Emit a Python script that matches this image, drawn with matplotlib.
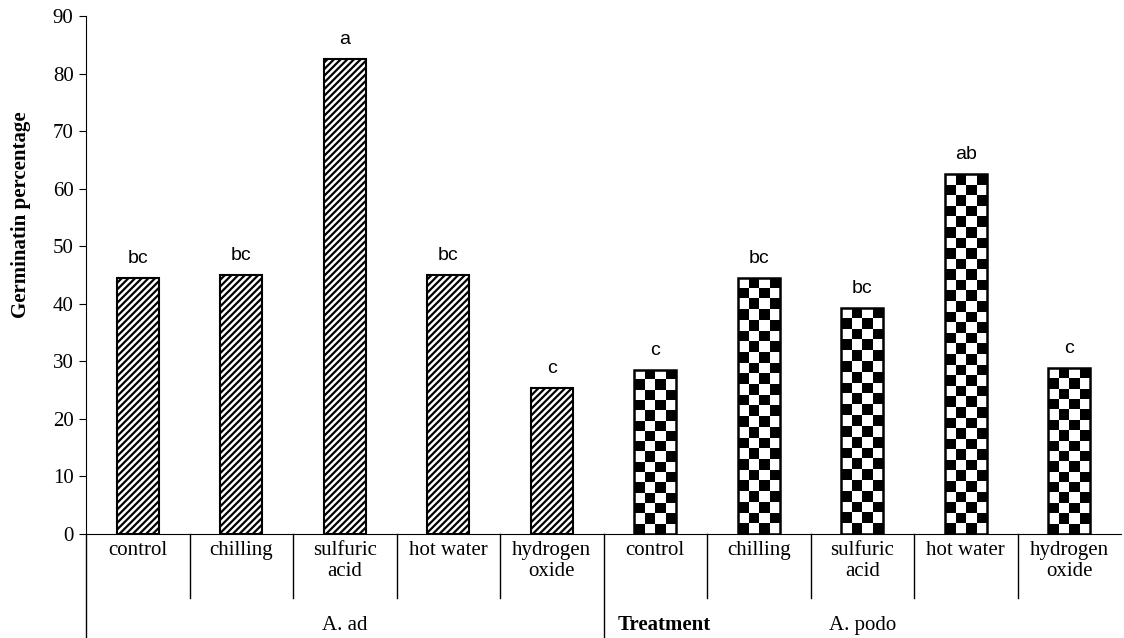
import numpy as np
import matplotlib
matplotlib.use("Agg")
import matplotlib.pyplot as plt
from matplotlib.transforms import blended_transform_factory

plt.rcParams['font.family'] = ['Liberation Serif', 'DejaVu Serif']
plt.rcParams['hatch.linewidth'] = 1.6

# data
treatments = ['control', 'chilling', 'sulfuric\nacid', 'hot water', 'hydrogen\noxide']
species = ['A. ad', 'A. podo']
ad_values = [44.5, 45.0, 82.5, 45.0, 25.3]
podo_values = [28.5, 44.5, 39.3, 62.5, 28.8]
ad_letters = ['bc', 'bc', 'a', 'bc', 'c']
podo_letters = ['c', 'bc', 'bc', 'ab', 'c']

labels = treatments + treatments
values = ad_values + podo_values
letters = ad_letters + podo_letters
n = len(values)
x = np.arange(n)

fig = plt.figure(figsize=(11.24, 6.38), dpi=100)
ax = fig.add_axes([86 / 1124, 104 / 638, 1035 / 1124, 518 / 638])

w = 0.41
# A. ad: diagonal stripes
ax.bar(x[:5], values[:5], width=w, color='white', edgecolor='black',
       hatch='/////', linewidth=1.5, zorder=2)

# A. podo: checkerboard, drawn as an image clipped to each bar
bars = ax.bar(x[5:], values[5:], width=w, color='white', edgecolor='none', zorder=2)
for b in bars:
    h = b.get_height()
    rows = max(1, int(round(h / (90 / 49))))
    board = (np.indices((rows, 4)).sum(axis=0) % 2).astype(float)
    im = ax.imshow(board, cmap='gray_r', vmin=0, vmax=1, interpolation='nearest',
                   extent=(b.get_x(), b.get_x() + b.get_width(), 0, h),
                   aspect='auto', zorder=2.5)
    im.set_clip_path(b)
ax.bar(x[5:], values[5:], width=w, fill=False, edgecolor='black',
       linewidth=1.8, zorder=3)

# significance letters
for xi, v, t in zip(x, values, letters):
    ax.annotate(t, (xi, v), xytext=(0, 8), textcoords='offset points',
                ha='center', va='bottom', fontsize=14, family='Liberation Sans')

ax.set_xlim(-0.5, n - 0.5)
ax.set_ylim(0, 90)
ax.set_yticks(range(0, 91, 10))
ax.tick_params(axis='y', direction='out', length=5, labelsize=15, pad=4)
ax.tick_params(axis='x', bottom=False, labelbottom=False)
ax.spines['top'].set_visible(False)
ax.spines['right'].set_visible(False)

# category table under the axis
tr = blended_transform_factory(ax.transData, ax.transAxes)
for xi, lab in zip(x, labels):
    ax.text(xi, -0.014, lab, transform=tr, ha='center', va='top',
            fontsize=15, linespacing=1.1)
for k in range(n):
    edge = k - 0.5
    low = -0.2 if k in (0, 5) else -0.124
    ax.plot([edge, edge], [0, low], transform=tr, color='black', lw=1, clip_on=False)

for g, name in enumerate(species):
    ax.text(g * 5 + 2, -0.176, name, transform=tr, ha='center', va='center',
            fontsize=15)
ax.text(0.559, -0.176, 'Treatment', transform=ax.transAxes, ha='center',
        va='center', fontsize=15, fontweight='bold')

ax.text(-0.063, 0.616, 'Germinatin percentage', transform=ax.transAxes,
        rotation=90, ha='center', va='center', fontsize=15, fontweight='bold')

fig.savefig('out.png', dpi=100)
